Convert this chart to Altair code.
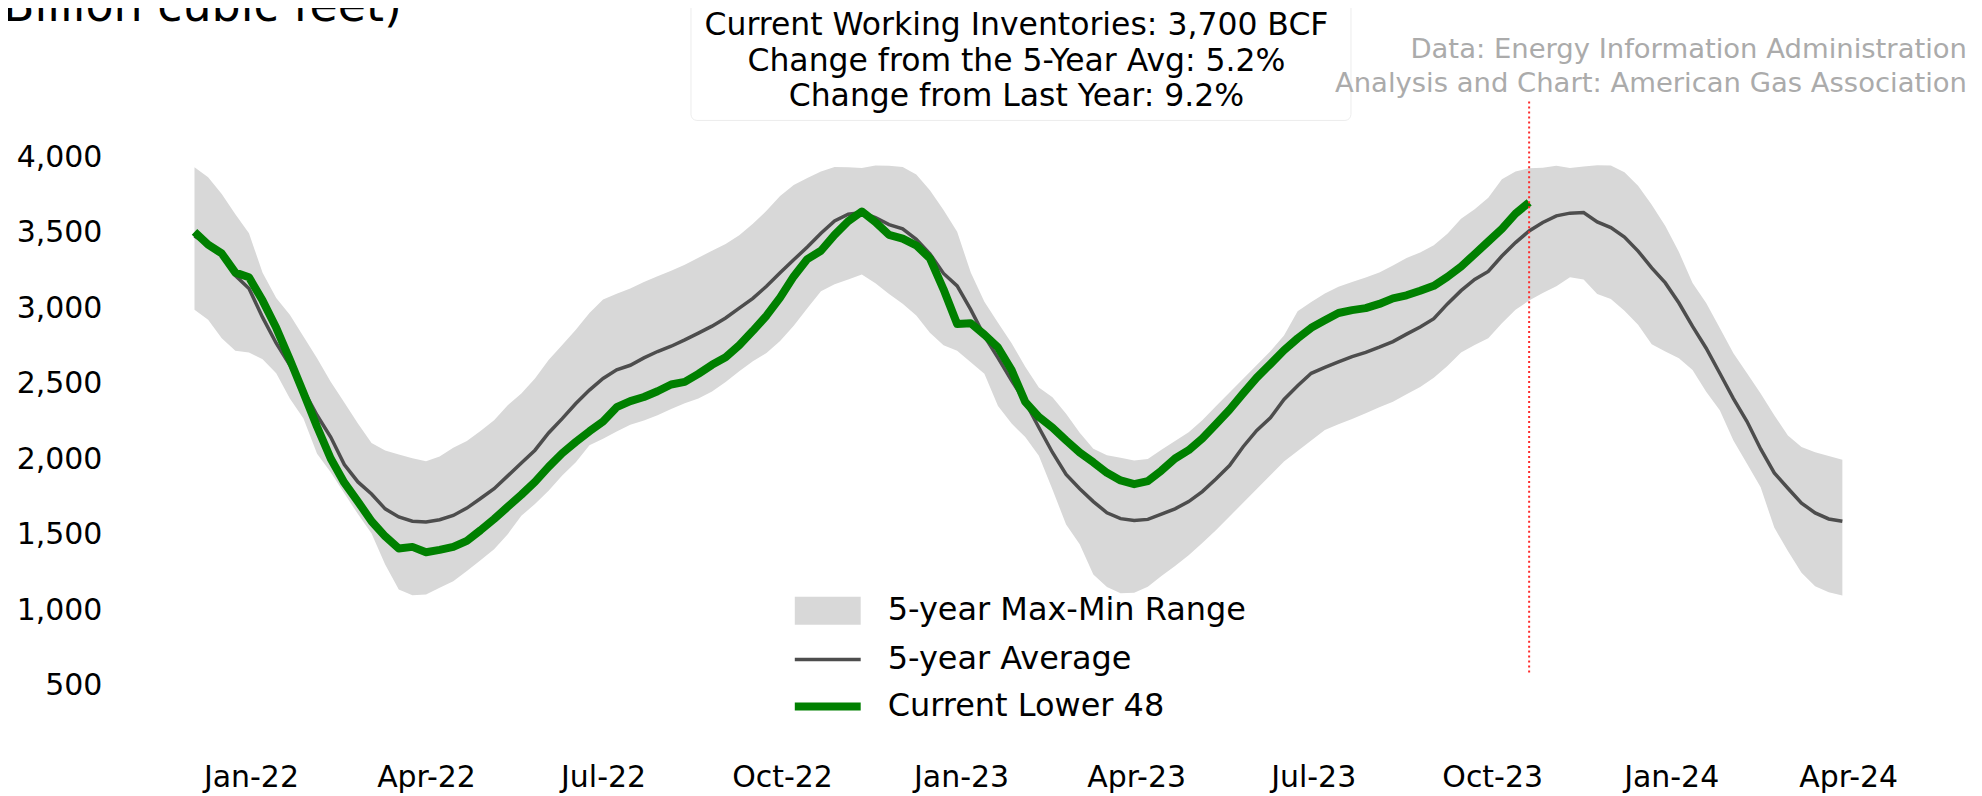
import altair as alt
import pandas as pd

# ---------------- data (weekly, Billion cubic feet) ----------------
START = "2021-12-03"

current = [3505, 3420, 3362, 3235, 3205, 3050, 2870, 2660, 2440, 2215,
           2005, 1845, 1720, 1590, 1490, 1410, 1420, 1385, 1400, 1420,
           1460, 1530, 1605, 1685, 1765, 1850, 1950, 2040, 2115, 2185,
           2250, 2345, 2385, 2412, 2450, 2495, 2512, 2565, 2625, 2675,
           2755, 2850, 2950, 3070, 3210, 3325, 3380, 3485, 3575, 3640,
           3570, 3485, 3460, 3415, 3330, 3125, 2895, 2900, 2825, 2740,
           2590, 2380, 2280, 2210, 2125, 2045, 1980, 1910, 1860, 1835,
           1855, 1925, 2005, 2060, 2138, 2232, 2328, 2436, 2540, 2630,
           2722, 2800, 2870, 2920, 2968, 2987, 3000, 3028, 3065, 3085,
           3115, 3148, 3207, 3275, 3358, 3441, 3525, 3626, 3700]

avg5 = [3478, 3422, 3352, 3216, 3130, 2939, 2768, 2624, 2458, 2291,
        2147, 1965, 1850, 1770, 1672, 1618, 1590, 1585, 1600, 1628,
        1677, 1740, 1805, 1890, 1975, 2060, 2174, 2269, 2369, 2458,
        2535, 2592, 2622, 2671, 2713, 2748, 2790, 2835, 2881, 2935,
        3000, 3065, 3145, 3234, 3320, 3405, 3496, 3578, 3622, 3633,
        3600, 3553, 3525, 3456, 3360, 3230, 3147, 2990, 2815, 2671,
        2520, 2380, 2210, 2045, 1900, 1805, 1720, 1646, 1607, 1595,
        1602, 1637, 1672, 1720, 1786, 1870, 1958, 2083, 2191, 2274,
        2396, 2487, 2569, 2608, 2644, 2679, 2708, 2742, 2779, 2828,
        2875, 2930, 3028, 3116, 3190, 3243, 3345, 3434, 3511, 3567,
        3611, 3629, 3633, 3571, 3533, 3471, 3378, 3267, 3167, 3034,
        2879, 2735, 2569, 2402, 2250, 2068, 1910, 1808, 1710, 1645,
        1605, 1590]

max5 = [3933, 3866, 3755, 3622, 3496, 3234, 3068, 2957, 2813, 2668,
        2513, 2376, 2236, 2107, 2058, 2032, 2007, 1987, 2018, 2076,
        2121, 2187, 2258, 2358, 2436, 2535, 2657, 2757, 2857, 2968,
        3057, 3095, 3130, 3174, 3212, 3247, 3287, 3334, 3380, 3425,
        3482, 3558, 3644, 3742, 3815, 3862, 3904, 3935, 3933, 3928,
        3944, 3942, 3935, 3884, 3780, 3649, 3505, 3236, 3043, 2904,
        2768, 2613, 2475, 2410, 2302, 2176, 2070, 2027, 2010, 1992,
        2001, 2063, 2121, 2178, 2258, 2351, 2442, 2533, 2624, 2715,
        2819, 2979, 3041, 3097, 3141, 3174, 3203, 3236, 3283, 3332,
        3369, 3416, 3493, 3591, 3655, 3731, 3853, 3904, 3926, 3930,
        3942, 3928, 3937, 3946, 3944, 3899, 3811, 3684, 3544, 3371,
        3167, 3034, 2868, 2702, 2569, 2436, 2291, 2158, 2081, 2047,
        2021, 1996]

min5 = [2990, 2923, 2801, 2719, 2706, 2662, 2569, 2402, 2269, 2036,
        1914, 1775, 1637, 1508, 1304, 1138, 1100, 1105, 1149, 1193,
        1260, 1331, 1404, 1504, 1626, 1704, 1792, 1892, 1981, 2092,
        2136, 2184, 2229, 2256, 2291, 2333, 2371, 2402, 2449, 2511,
        2582, 2648, 2704, 2782, 2884, 2999, 3112, 3159, 3190, 3223,
        3165, 3094, 3030, 2952, 2837, 2755, 2719, 2642, 2566, 2353,
        2236, 2147, 2023, 1800, 1568, 1437, 1238, 1154, 1114, 1116,
        1156, 1227, 1293, 1364, 1446, 1531, 1621, 1712, 1803, 1894,
        1985, 2054, 2125, 2194, 2231, 2267, 2305, 2345, 2380, 2431,
        2478, 2540, 2617, 2706, 2757, 2801, 2901, 2990, 3050, 3101,
        3145, 3205, 3190, 3094, 3061, 2983, 2890, 2762, 2713, 2668,
        2591, 2447, 2325, 2125, 1970, 1814, 1548, 1393, 1249, 1160,
        1120, 1098]

y_ticks = [500, 1000, 1500, 2000, 2500, 3000, 3500, 4000]
x_ticks = [(2022, 1), (2022, 4), (2022, 7), (2022, 10), (2023, 1),
           (2023, 4), (2023, 7), (2023, 10), (2024, 1), (2024, 4)]
latest_date = "2023-10-20"

legend_labels = ["5-year Max-Min Range", "5-year Average", "Current Lower 48"]
info_lines = ["Current Working Inventories: 3,700 BCF",
              "Change from the 5-Year Avg: 5.2%",
              "Change from Last Year: 9.2%"]
source_lines = ["Data: Energy Information Administration",
                "Analysis and Chart: American Gas Association"]
unit_label = "(Billion cubic feet)"

# ---------------- tables ----------------
dates = pd.date_range(START, periods=len(avg5), freq="7D").strftime("%Y-%m-%d")
band = pd.DataFrame({"date": list(dates), "avg": avg5, "max": max5, "min": min5})
cur = pd.DataFrame({"date": list(dates[:len(current)]), "value": current})
one = pd.DataFrame({"k": [0]})

FONT = "DejaVu Sans"
GREY_FILL = "#d8d8d8"
AVG_COL = "#4d4d4d"
GREEN = "#008000"

xscale = alt.Scale(type="utc", nice=False,
                   domain=[alt.DateTime(year=2021, month=10, date=21, utc=True),
                           alt.DateTime(year=2024, month=5, date=10, utc=True)])
yscale = alt.Scale(domain=[0, 4150], nice=False, zero=False)

xaxis = alt.Axis(values=[alt.DateTime(year=y, month=m, date=1, utc=True) for y, m in x_ticks],
                 labelExpr="utcFormat(datum.value, '%b-%y')", title=None,
                 domain=False, ticks=False, grid=False, labelFont=FONT,
                 labelFontSize=30, labelColor="black", labelPadding=25,
                 labelBaseline="alphabetic", labelAngle=0, labelOverlap=False,
                 labelFlush=False)
yaxis = alt.Axis(values=y_ticks, format=",d", title=None, domain=False, ticks=False,
                 grid=False, labelFont=FONT, labelFontSize=30, labelColor="black",
                 labelPadding=9)

area = alt.Chart(band).mark_area(color=GREY_FILL).encode(
    x=alt.X("date:T", scale=xscale, axis=xaxis),
    y=alt.Y("min:Q", scale=yscale, axis=yaxis),
    y2="max:Q",
)
avg_line = alt.Chart(band).mark_line(color=AVG_COL, strokeWidth=3.5).encode(
    x="date:T", y="avg:Q")
cur_line = alt.Chart(cur).mark_line(color=GREEN, strokeWidth=8, strokeJoin="round",
                                    strokeCap="butt").encode(x="date:T", y="value:Q")

red_rule = alt.Chart(pd.DataFrame({"date": [latest_date]})).mark_rule(
    color="#ff2a2a", strokeDash=[2, 3], strokeWidth=2).encode(
    x="date:T", y=alt.value(-33), y2=alt.value(542))

# legend (manual)
leg_patch = alt.Chart(one).mark_rect(color=GREY_FILL).encode(
    x=alt.value(685), x2=alt.value(751), y=alt.value(463), y2=alt.value(491))
leg_avg = alt.Chart(one).mark_rule(color=AVG_COL, strokeWidth=3.5).encode(
    x=alt.value(685), x2=alt.value(751), y=alt.value(526))
leg_cur = alt.Chart(one).mark_rule(color=GREEN, strokeWidth=8).encode(
    x=alt.value(685), x2=alt.value(751), y=alt.value(573))
leg_texts = [
    alt.Chart(one).mark_text(text=t, align="left", baseline="middle", font=FONT,
                             fontSize=32, color="black").encode(
        x=alt.value(778), y=alt.value(yy))
    for t, yy in zip(legend_labels, [476, 525, 572])
]

# info box
box = alt.Chart(one).mark_rect(fill="white", stroke="#ececec", strokeWidth=1,
                               cornerRadius=6).encode(
    x=alt.value(581), x2=alt.value(1242), y=alt.value(-170), y2=alt.value(-14))
info_texts = [
    alt.Chart(one).mark_text(text=t, align="center", baseline="middle", font=FONT,
                             fontSize=31.5, color="black").encode(
        x=alt.value(907), y=alt.value(yy))
    for t, yy in zip(info_lines, [-109, -73, -37])
]
source_texts = [
    alt.Chart(one).mark_text(text=t, align="right", baseline="middle", font=FONT,
                             fontSize=27.5, color="#ababab").encode(
        x=alt.value(1859), y=alt.value(yy))
    for t, yy in zip(source_lines, [-85, -50])
]
unit_text = alt.Chart(one).mark_text(text=unit_label, align="left", baseline="alphabetic",
                                     font=FONT, fontSize=46, color="black").encode(
    x=alt.value(-126), y=alt.value(-114))

chart = alt.layer(area, avg_line, cur_line, red_rule, leg_patch, leg_avg, leg_cur,
                  *leg_texts, box, *info_texts, *source_texts, unit_text).properties(
    width=1816, height=628,
    autosize=alt.AutoSizeParams(type="none"),
    padding={"left": 103, "top": 126, "right": 50, "bottom": 36},
).configure_view(stroke=None)

chart.save("out.html", embed_options={"renderer": "svg", "actions": False})
